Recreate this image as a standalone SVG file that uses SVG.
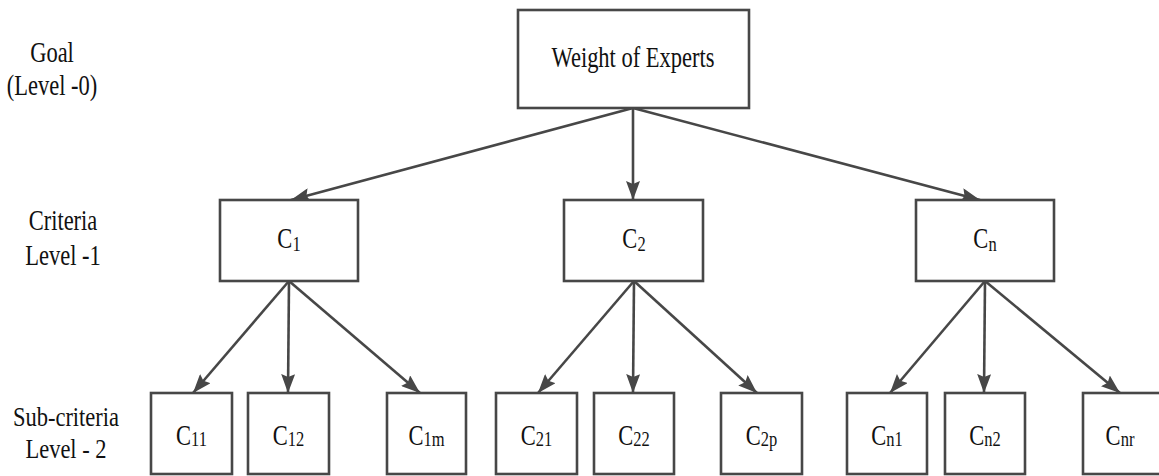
<svg xmlns="http://www.w3.org/2000/svg" width="1159" height="476" viewBox="0 0 1159 476">
<style>
.box{fill:#fff;stroke:#474747;stroke-width:2.6}
.edge{stroke:#474747;stroke-width:2.6;fill:none;marker-end:url(#ah)}
text{font-family:"Liberation Serif","Times New Roman",serif;font-size:22.5px;fill:#111;text-anchor:middle}
.sub{font-size:16.5px}
</style>
<defs>
<marker id="ah" markerUnits="userSpaceOnUse" markerWidth="20" markerHeight="14" refX="19" refY="7" orient="auto">
<path d="M0,0 L19,7 L0,14 L3,7 Z" fill="#474747"/>
</marker>
</defs>
<rect width="1159" height="476" fill="#fff"/>
<g id="level-labels">
<text transform="translate(52 62) scale(1 1.3)">Goal</text>
<text transform="translate(52 95) scale(1 1.3)">(Level -0)</text>
<text transform="translate(63 230) scale(1 1.3)">Criteria</text>
<text transform="translate(63 265) scale(1 1.3)">Level -1</text>
<text transform="translate(66 426) scale(1 1.25)">Sub-criteria</text>
<text transform="translate(66 458) scale(1 1.25)">Level - 2</text>
</g>
<g id="connectors">
<line class="edge" x1="633" y1="108" x2="291" y2="200"/>
<line class="edge" x1="633" y1="108" x2="633" y2="200"/>
<line class="edge" x1="633" y1="108" x2="980" y2="200"/>
<line class="edge" x1="289" y1="281" x2="193" y2="393"/>
<line class="edge" x1="289" y1="281" x2="288" y2="393"/>
<line class="edge" x1="289" y1="281" x2="420" y2="393"/>
<line class="edge" x1="634" y1="281" x2="538" y2="393"/>
<line class="edge" x1="634" y1="281" x2="633" y2="393"/>
<line class="edge" x1="634" y1="281" x2="757" y2="393"/>
<line class="edge" x1="985" y1="281" x2="890" y2="393"/>
<line class="edge" x1="985" y1="281" x2="984" y2="393"/>
<line class="edge" x1="985" y1="281" x2="1120" y2="393"/>
</g>
<g id="goal">
<rect class="box" x="518" y="10" width="231" height="98"/>
<text transform="translate(633 67) scale(1 1.3)">Weight of Experts</text>
</g>
<g id="c1">
<rect class="box" x="220" y="200" width="138" height="81"/>
<text transform="translate(289 248) scale(1 1.3)">C<tspan class="sub" dy="2">1</tspan></text>
</g>
<g id="c2">
<rect class="box" x="564" y="200" width="139" height="81"/>
<text transform="translate(634 248) scale(1 1.3)">C<tspan class="sub" dy="2">2</tspan></text>
</g>
<g id="cn">
<rect class="box" x="916" y="200" width="138" height="81"/>
<text transform="translate(985 248) scale(1 1.3)">C<tspan class="sub" dy="2">n</tspan></text>
</g>
<g id="c11">
<rect class="box" x="151" y="393" width="81" height="81"/>
<text transform="translate(191.5 445) scale(1 1.3)">C<tspan class="sub" dy="1">11</tspan></text>
</g>
<g id="c12">
<rect class="box" x="248" y="393" width="81" height="81"/>
<text transform="translate(288.5 445) scale(1 1.3)">C<tspan class="sub" dy="1">12</tspan></text>
</g>
<g id="c1m">
<rect class="box" x="387" y="393" width="79" height="81"/>
<text transform="translate(426.5 445) scale(1 1.3)">C<tspan class="sub" dy="1">1m</tspan></text>
</g>
<g id="c21">
<rect class="box" x="496" y="393" width="81" height="81"/>
<text transform="translate(536.5 445) scale(1 1.3)">C<tspan class="sub" dy="1">21</tspan></text>
</g>
<g id="c22">
<rect class="box" x="594" y="393" width="80" height="81"/>
<text transform="translate(634 445) scale(1 1.3)">C<tspan class="sub" dy="1">22</tspan></text>
</g>
<g id="c2p">
<rect class="box" x="721" y="393" width="81" height="81"/>
<text transform="translate(761.5 445) scale(1 1.3)">C<tspan class="sub" dy="1">2p</tspan></text>
</g>
<g id="cn1">
<rect class="box" x="847" y="393" width="80" height="81"/>
<text transform="translate(887 445) scale(1 1.3)">C<tspan class="sub" dy="1">n1</tspan></text>
</g>
<g id="cn2">
<rect class="box" x="945" y="393" width="80" height="81"/>
<text transform="translate(985 445) scale(1 1.3)">C<tspan class="sub" dy="1">n2</tspan></text>
</g>
<g id="cnr">
<rect class="box" x="1083" y="393" width="80" height="81"/>
<text transform="translate(1120 445) scale(1 1.3)">C<tspan class="sub" dy="1">nr</tspan></text>
</g>
</svg>
